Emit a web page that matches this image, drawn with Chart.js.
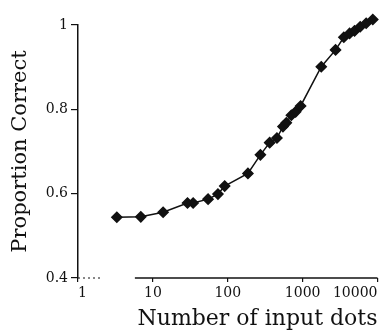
<!DOCTYPE html>
<html>
<head>
<meta charset="utf-8">
<script src="https://cdn.jsdelivr.net/npm/chart.js@4/dist/chart.umd.min.js"></script>
<style>
  html, body { margin: 0; padding: 0; background: #fff; }
  canvas { display: block; }
</style>
</head>
<body>
<canvas id="dotsChart" width="384" height="334"></canvas>
<script>
// Dados
const inputDots = [3.3, 6.9, 13.7, 29, 34.5, 54.6, 74, 91, 186, 273, 363, 454, 546, 606, 707, 807, 940,
                   1774, 2754, 3550, 4235, 4937, 5875, 7060, 8654, 9400];
const proportionCorrect = [0.544, 0.545, 0.556, 0.578, 0.578, 0.587, 0.599, 0.618, 0.648, 0.692, 0.721,
                           0.732, 0.759, 0.768, 0.786, 0.794, 0.808, 0.901, 0.941, 0.971, 0.980, 0.986,
                           0.996, 1.004, 1.013, 1.016];
const xTicks = [1, 10, 100, 1000, 10000];
const yTicks = [0.4, 0.6, 0.8, 1];

const serif = "'DejaVu Serif', 'Liberation Serif', serif";
const ink = '#111';

// Linha do eixo X (com o trecho pontilhado perto da origem)
const xAxisLine = {
    id: 'xAxisLine',
    afterDraw(chart) {
        const { ctx, chartArea, scales } = chart;
        const y = chartArea.bottom;
        ctx.save();
        ctx.strokeStyle = ink;
        ctx.lineWidth = 1.5;
        ctx.beginPath();
        ctx.moveTo(scales.x.getPixelForValue(5.75), y);
        ctx.lineTo(chartArea.right, y);
        ctx.stroke();
        ctx.lineWidth = 1;
        ctx.setLineDash([2, 3]);
        ctx.beginPath();
        ctx.moveTo(chartArea.left, y);
        ctx.lineTo(chartArea.left + 22, y);
        ctx.stroke();
        ctx.restore();
    }
};

const data = inputDots.map((x, i) => ({ x: x, y: proportionCorrect[i] }));

new Chart(document.getElementById('dotsChart').getContext('2d'), {
    type: 'scatter',
    data: {
        datasets: [{
            data: data,
            showLine: true,
            borderColor: ink,
            borderWidth: 1.5,
            tension: 0,
            pointStyle: 'rectRot',
            pointRadius: 5,
            pointBackgroundColor: ink,
            pointBorderColor: ink,
            clip: false
        }]
    },
    options: {
        responsive: false,
        animation: false,
        layout: { padding: { left: 0, right: 6, top: 25, bottom: 0 } },
        plugins: {
            legend: { display: false },
            tooltip: { enabled: false }
        },
        scales: {
            x: {
                type: 'logarithmic',
                min: 1,
                max: 10000,
                afterBuildTicks: (scale) => { scale.ticks = xTicks.map(v => ({ value: v })); },
                afterFit: (scale) => { scale.height = 56; scale.paddingLeft = 0; scale.paddingRight = 0; },
                border: { display: false },
                grid: { drawOnChartArea: false, drawTicks: true, tickLength: 4, color: ink, lineWidth: 1.2 },
                ticks: {
                    color: ink,
                    align: 'inner',
                    maxRotation: 0,
                    padding: 3,
                    font: { family: serif, size: 14 },
                    callback: (v) => String(v)
                },
                title: {
                    display: true,
                    text: 'Number of input dots',
                    color: ink,
                    align: 'end',
                    padding: { top: 0, bottom: 2 },
                    font: { family: serif, size: 22 }
                }
            },
            y: {
                min: 0.4,
                max: 1,
                afterBuildTicks: (scale) => { scale.ticks = yTicks.map(v => ({ value: v })); },
                afterFit: (scale) => { scale.width = 78; },
                border: { display: true, color: ink, width: 1.5 },
                grid: { drawOnChartArea: false, drawTicks: true, tickLength: 7, color: ink, lineWidth: 1.2 },
                ticks: {
                    color: ink,
                    padding: 3,
                    font: { family: serif, size: 14 },
                    callback: (v) => String(v)
                },
                title: {
                    display: true,
                    text: 'Proportion Correct',
                    color: ink,
                    padding: { top: 8, bottom: 0 },
                    font: { family: serif, size: 21 }
                }
            }
        }
    },
    plugins: [xAxisLine]
});
</script>
</body>
</html>
